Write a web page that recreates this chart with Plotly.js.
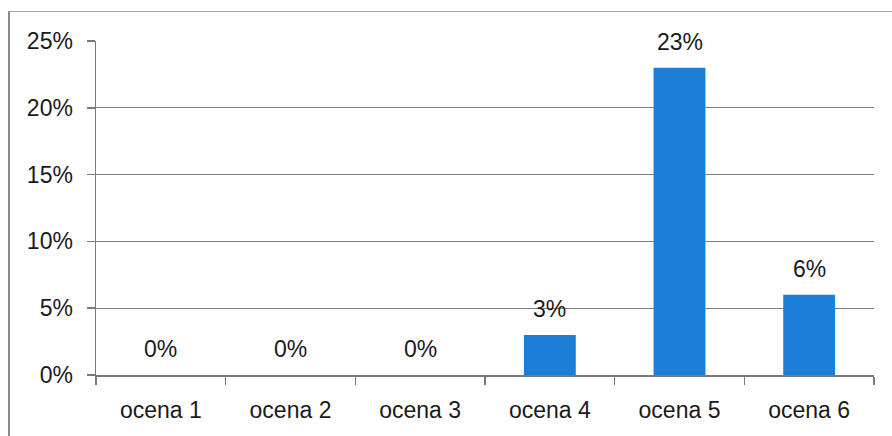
<!DOCTYPE html>
<html>
<head>
<meta charset="utf-8">
<script src="https://cdn.plot.ly/plotly-3.0.1.min.js"></script>
<style>
  html, body { margin: 0; padding: 0; background: #fff; }
  #wrap { position: relative; width: 892px; height: 436px; }
  #chart { width: 892px; height: 436px; }
  #frame { position: absolute; left: 8px; top: 11px; width: 900px; height: 440px;
           border-left: 2px solid #8a8a8a; border-top: 1px solid #a8a8a8; pointer-events: none; }
</style>
</head>
<body>
<div id="wrap">
  <div id="chart"></div>
  <div id="frame"></div>
</div>
<script>
const categories = ["ocena 1", "ocena 2", "ocena 3", "ocena 4", "ocena 5", "ocena 6"];
const values = [0, 0, 0, 3, 23, 6];
const labels = ["0%", "0%", "0%", "3%", "23%", "6%"];
const yTickVals = [0, 5, 10, 15, 20, 25];
const yTickText = ["0%", "5%", "10%", "15%", "20%", "25%"];

const font = { family: "Liberation Sans, Arial, sans-serif", size: 23, color: "#1a1a1a" };

const trace = {
  type: "bar",
  x: categories,
  y: values,
  marker: { color: "#1b7fd8" },
  hoverinfo: "none"
};

const annotations = categories.map((c, i) => ({
  x: c, y: values[i], xref: "x", yref: "y",
  text: labels[i], showarrow: false, yanchor: "middle", yshift: 26,
  font: font
}));

const layout = {
  width: 892, height: 436,
  margin: { l: 96, r: 18, t: 41, b: 61 },
  paper_bgcolor: "#ffffff",
  plot_bgcolor: "#ffffff",
  bargap: 0.6,
  showlegend: false,
  font: font,
  xaxis: {
    type: "category",
    tickson: "boundaries",
    ticks: "outside", ticklen: 8, tickwidth: 1.5, tickcolor: "#7a7a7a",
    showline: true, linecolor: "#7a7a7a", linewidth: 1.5,
    showgrid: false, zeroline: false,
    tickfont: font,
    ticklabelstandoff: 14
  },
  yaxis: {
    range: [0, 25],
    tickvals: yTickVals, ticktext: yTickText,
    ticks: "outside", ticklen: 8, tickwidth: 1.5, tickcolor: "#7a7a7a",
    showline: true, linecolor: "#7a7a7a", linewidth: 1.5,
    showgrid: true, gridcolor: "#7f7f7f", gridwidth: 1.3,
    zeroline: false,
    tickfont: font,
    ticklabelstandoff: 9
  },
  annotations: annotations
};

Plotly.newPlot("chart", [trace], layout, { staticPlot: true, displayModeBar: false });
</script>
</body>
</html>
